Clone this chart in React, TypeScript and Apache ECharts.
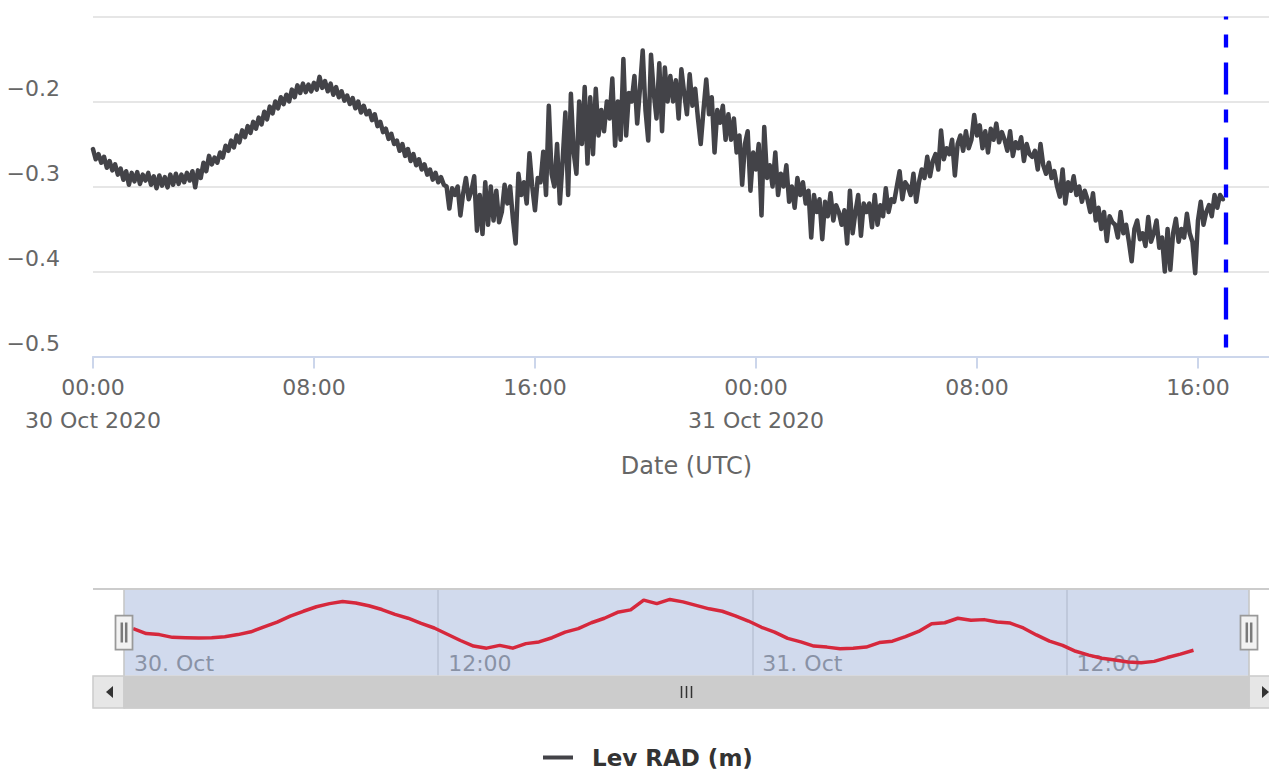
import React, { useEffect, useRef } from "react";
import * as echarts from "echarts";

// ---------- data ----------
const BASE = Date.UTC(2020, 9, 30, 0, 0, 0);
const MIN = 60000;
const HOUR = 3600000;
const STEP_MIN = 6;

// one row per hour (00:00 30 Oct onwards), values every 6 minutes
const levelRows: number[][] = [
  [-0.256, -0.268, -0.262, -0.272, -0.265, -0.278, -0.27, -0.281, -0.274, -0.286],
  [-0.279, -0.292, -0.282, -0.298, -0.284, -0.294, -0.283, -0.297, -0.286, -0.293],
  [-0.284, -0.298, -0.288, -0.302, -0.287, -0.299, -0.289, -0.301, -0.286, -0.298],
  [-0.285, -0.297, -0.286, -0.295, -0.284, -0.293, -0.282, -0.301, -0.281, -0.29],
  [-0.272, -0.282, -0.264, -0.274, -0.266, -0.272, -0.26, -0.266, -0.252, -0.258],
  [-0.246, -0.254, -0.24, -0.248, -0.234, -0.242, -0.229, -0.237, -0.224, -0.232],
  [-0.219, -0.227, -0.212, -0.221, -0.206, -0.214, -0.2, -0.208, -0.195, -0.203],
  [-0.192, -0.2, -0.186, -0.195, -0.181, -0.19, -0.179, -0.189, -0.18, -0.188],
  [-0.178, -0.186, -0.171, -0.184, -0.176, -0.188, -0.179, -0.192, -0.183, -0.195],
  [-0.188, -0.199, -0.193, -0.203, -0.196, -0.208, -0.2, -0.213, -0.205, -0.215],
  [-0.211, -0.222, -0.215, -0.229, -0.224, -0.236, -0.232, -0.244, -0.238, -0.25],
  [-0.246, -0.258, -0.25, -0.264, -0.256, -0.27, -0.262, -0.275, -0.268, -0.28],
  [-0.274, -0.286, -0.28, -0.292, -0.284, -0.295, -0.289, -0.298, -0.3, -0.326],
  [-0.302, -0.31, -0.3, -0.334, -0.308, -0.29, -0.315, -0.305, -0.288, -0.352],
  [-0.31, -0.356, -0.295, -0.345, -0.3, -0.34, -0.305, -0.342, -0.33, -0.298],
  [-0.32, -0.3, -0.338, -0.367, -0.285, -0.31, -0.295, -0.32, -0.261, -0.3],
  [-0.328, -0.29, -0.295, -0.259, -0.31, -0.205, -0.285, -0.3, -0.25, -0.32],
  [-0.27, -0.213, -0.31, -0.191, -0.26, -0.285, -0.2, -0.25, -0.183, -0.273],
  [-0.195, -0.262, -0.185, -0.24, -0.21, -0.235, -0.2, -0.22, -0.173, -0.252],
  [-0.2, -0.245, -0.15, -0.24, -0.19, -0.2, -0.17, -0.226, -0.185, -0.14],
  [-0.21, -0.246, -0.145, -0.19, -0.22, -0.155, -0.235, -0.16, -0.2, -0.17],
  [-0.2, -0.175, -0.22, -0.162, -0.19, -0.215, -0.168, -0.205, -0.185, -0.22],
  [-0.25, -0.21, -0.174, -0.215, -0.195, -0.26, -0.21, -0.225, -0.205, -0.245],
  [-0.215, -0.245, -0.22, -0.26, -0.24, -0.298, -0.25, -0.235, -0.305, -0.26],
  [-0.28, -0.25, -0.334, -0.23, -0.29, -0.275, -0.3, -0.26, -0.31, -0.285],
  [-0.3, -0.275, -0.318, -0.3, -0.325, -0.29, -0.31, -0.295, -0.32, -0.305],
  [-0.36, -0.31, -0.33, -0.315, -0.362, -0.318, -0.335, -0.308, -0.34, -0.322],
  [-0.33, -0.345, -0.328, -0.367, -0.305, -0.355, -0.33, -0.31, -0.358, -0.32],
  [-0.33, -0.32, -0.348, -0.31, -0.345, -0.322, -0.335, -0.302, -0.33, -0.315],
  [-0.318, -0.3, -0.282, -0.315, -0.295, -0.3, -0.31, -0.285, -0.318, -0.295],
  [-0.28, -0.29, -0.265, -0.288, -0.27, -0.262, -0.28, -0.234, -0.268, -0.255],
  [-0.262, -0.245, -0.287, -0.25, -0.24, -0.258, -0.235, -0.255, -0.245, -0.216],
  [-0.24, -0.228, -0.255, -0.235, -0.26, -0.232, -0.245, -0.226, -0.248, -0.236],
  [-0.245, -0.258, -0.235, -0.264, -0.248, -0.255, -0.242, -0.27, -0.25, -0.262],
  [-0.265, -0.258, -0.28, -0.25, -0.275, -0.285, -0.272, -0.29, -0.282, -0.3],
  [-0.312, -0.28, -0.32, -0.295, -0.305, -0.288, -0.31, -0.3, -0.318, -0.305],
  [-0.315, -0.33, -0.308, -0.34, -0.325, -0.35, -0.33, -0.364, -0.335, -0.342],
  [-0.345, -0.36, -0.33, -0.355, -0.345, -0.365, -0.388, -0.35, -0.34, -0.362],
  [-0.355, -0.37, -0.336, -0.365, -0.355, -0.34, -0.372, -0.36, -0.4, -0.35],
  [-0.398, -0.355, -0.338, -0.365, -0.35, -0.36, -0.332, -0.355, -0.365, -0.402],
  [-0.34, -0.318, -0.345, -0.33, -0.322, -0.335, -0.31, -0.325, -0.31, -0.315],
];

// navigator (grouped) series: every 30 min starting 00:21
const NAV_START_MIN = 21;
const NAV_STEP_MIN = 30;
const navValues: number[] = [
  -0.262, -0.276, -0.279, -0.287, -0.288, -0.289, -0.288, -0.285, -0.279, -0.271,
  -0.257, -0.243, -0.226, -0.212, -0.199, -0.19, -0.184, -0.188, -0.196, -0.207,
  -0.221, -0.232, -0.247, -0.26, -0.278, -0.296, -0.312, -0.318, -0.31, -0.318,
  -0.305, -0.3, -0.288, -0.272, -0.262, -0.245, -0.232, -0.215, -0.208, -0.18,
  -0.19, -0.178, -0.185, -0.195, -0.205, -0.212, -0.225, -0.24, -0.258, -0.272,
  -0.29, -0.3, -0.312, -0.315, -0.32, -0.318, -0.315, -0.302, -0.298, -0.285,
  -0.27, -0.248, -0.245, -0.232, -0.238, -0.236, -0.243, -0.246, -0.26, -0.28,
  -0.298, -0.31, -0.327, -0.338, -0.347, -0.352, -0.358, -0.36, -0.356, -0.345,
  -0.335, -0.324,
];

const SERIES_NAME = "Lev RAD (m)";
const AXIS_TITLE = "Date (UTC)";
const MONTHS = ["Jan", "Feb", "Mar", "Apr", "May", "Jun", "Jul", "Aug", "Sep", "Oct", "Nov", "Dec"];
const Y_MIN = -0.5;
const Y_MAX = -0.1;
const Y_STEP = 0.1;
const NAV_Y_MIN = -0.398;
const NAV_Y_MAX = -0.148;
const AXIS_END_HOURS = 42.97;
const MARKER_HOURS = 41;
const MAIN_TICK_HOURS = 8;
const NAV_TICK_HOURS = 12;

// ---------- layout ----------
const CHART_W = 1281;
const CHART_H = 771;
const MAIN_LEFT = 93;
const MAIN_RIGHT = 1;
const MAIN_TOP = 16.5;
const MAIN_H = 340;
const NAV_TOP = 589;
const NAV_H = 87;
const SCROLL_H = 32;
const FONT = "'DejaVu Sans', sans-serif";

const pad2 = (n: number) => String(n).padStart(2, "0");

export default function App() {
  const ref = useRef<HTMLDivElement>(null);

  useEffect(() => {
    const el = ref.current;
    if (!el) return;
    const chart = echarts.init(el, null, { renderer: "svg" });

    const mainData = levelRows.flatMap((row, h) =>
      row.map((v, i) => [BASE + (h * 60 + i * STEP_MIN) * MIN, v])
    );
    const navData = navValues.map((v, i) => [BASE + (NAV_START_MIN + i * NAV_STEP_MIN) * MIN, v]);
    const xMin = BASE;
    const xMax = BASE + AXIS_END_HOURS * HOUR;
    const navLeft = MAIN_LEFT + SCROLL_H - 1;
    const navRight = MAIN_RIGHT + SCROLL_H - 1;

    const option: any = {
      animation: false,
      backgroundColor: "#ffffff",
      textStyle: { fontFamily: FONT },
      grid: [
        { left: MAIN_LEFT, right: MAIN_RIGHT, top: MAIN_TOP, height: MAIN_H },
        { left: navLeft, right: navRight, top: NAV_TOP, height: NAV_H },
      ],
      legend: {
        data: [SERIES_NAME],
        left: 538,
        top: 741,
        icon: "rect",
        itemWidth: 30,
        itemHeight: 4,
        selectedMode: false,
        textStyle: {
          fontFamily: FONT,
          fontSize: 23,
          fontWeight: "bold",
          color: "#333333",
          padding: [0, 0, 0, 14],
        },
      },
      xAxis: [
        {
          type: "value",
          gridIndex: 0,
          min: xMin,
          max: xMax,
          interval: MAIN_TICK_HOURS * HOUR,
          axisLine: { show: true, lineStyle: { color: "#ccd6eb", width: 2 } },
          axisTick: { show: true, length: 12, lineStyle: { color: "#ccd6eb", width: 2 } },
          splitLine: { show: false },
          axisLabel: {
            showMaxLabel: false,
            color: "#666666",
            fontFamily: FONT,
            fontSize: 22,
            lineHeight: 33,
            margin: 14,
            formatter: (v: number) => {
              const d = new Date(v);
              const t = pad2(d.getUTCHours()) + ":" + pad2(d.getUTCMinutes());
              if (d.getUTCHours() === 0 && d.getUTCMinutes() === 0) {
                return t + "\n" + d.getUTCDate() + " " + MONTHS[d.getUTCMonth()] + " " + d.getUTCFullYear();
              }
              return t;
            },
          },
          name: AXIS_TITLE,
          nameLocation: "middle",
          nameGap: 109,
          nameTextStyle: { color: "#666666", fontFamily: FONT, fontSize: 24, verticalAlign: "middle" },
        },
        {
          type: "value",
          gridIndex: 1,
          min: xMin,
          max: xMax,
          interval: NAV_TICK_HOURS * HOUR,
          axisLine: { show: false },
          axisTick: { show: false },
          splitLine: { show: true, lineStyle: { color: "#e6e6e6", width: 2 } },
          axisLabel: {
            inside: true,
            showMaxLabel: false,
            align: "left",
            padding: [0, 0, 0, 10],
            color: "#999999",
            fontFamily: FONT,
            fontSize: 22,
            lineHeight: 22,
            margin: 2,
            formatter: (v: number) => {
              const d = new Date(v);
              if (d.getUTCHours() === 0 && d.getUTCMinutes() === 0) {
                return d.getUTCDate() + ". " + MONTHS[d.getUTCMonth()];
              }
              return pad2(d.getUTCHours()) + ":" + pad2(d.getUTCMinutes());
            },
          },
        },
      ],
      yAxis: [
        {
          type: "value",
          gridIndex: 0,
          min: Y_MIN,
          max: Y_MAX,
          interval: Y_STEP,
          axisLine: { show: false },
          axisTick: { show: false },
          splitLine: { show: true, lineStyle: { color: "#e6e6e6", width: 2 } },
          axisLabel: {
            showMaxLabel: false,
            color: "#666666",
            fontFamily: FONT,
            fontSize: 22,
            margin: 33,
            verticalAlign: "bottom",
            padding: [0, 0, 2, 0],
            formatter: (v: number) => v.toFixed(1).replace("-", "\u2212"),
          },
        },
        {
          type: "value",
          gridIndex: 1,
          min: NAV_Y_MIN,
          max: NAV_Y_MAX,
          show: false,
          splitLine: { show: false },
        },
      ],
      series: [
        {
          type: "line",
          name: SERIES_NAME,
          xAxisIndex: 0,
          yAxisIndex: 0,
          data: mainData,
          showSymbol: false,
          symbol: "none",
          itemStyle: { color: "#434348" },
          lineStyle: { color: "#434348", width: 4.5, join: "round", cap: "round" },
          markLine: {
            silent: true,
            symbol: "none",
            label: { show: false },
            lineStyle: { color: "#0000ff", width: 4.3, type: [32, 15, 13, 15], dashOffset: 38 },
            data: [{ xAxis: BASE + MARKER_HOURS * HOUR }],
          },
        },
        {
          type: "line",
          name: "navigator",
          xAxisIndex: 1,
          yAxisIndex: 1,
          data: navData,
          showSymbol: false,
          symbol: "none",
          silent: true,
          itemStyle: { color: "#d6283c" },
          lineStyle: { color: "#d6283c", width: 3.5, join: "round" },
          markArea: {
            silent: true,
            itemStyle: { color: "rgba(102,133,194,0.3)" },
            data: [[{ xAxis: xMin }, { xAxis: xMax }]],
          },
        },
      ],
    };

    chart.setOption(option);

    const x0 = chart.convertToPixel({ xAxisIndex: 1 }, xMin) as number;
    const x1 = chart.convertToPixel({ xAxisIndex: 1 }, xMax) as number;
    const L = MAIN_LEFT;
    const R = CHART_W - MAIN_RIGHT;
    const navBot = NAV_TOP + NAV_H;
    const sTop = navBot;
    const sBot = navBot + SCROLL_H;
    const sMid = sTop + SCROLL_H / 2;
    const navMid = NAV_TOP + NAV_H / 2;
    const cx = (x0 + x1) / 2;

    const handle = (x: number) => [
      {
        type: "rect",
        z: 100,
        silent: true,
        shape: { x: x - 8.5, y: navMid - 17, width: 17, height: 34 },
        style: { fill: "#f2f2f2", stroke: "#999999", lineWidth: 1.75 },
      },
      {
        type: "line",
        z: 101,
        silent: true,
        shape: { x1: x - 2.2, y1: navMid - 10, x2: x - 2.2, y2: navMid + 10 },
        style: { stroke: "#7a7a7a", lineWidth: 2.5 },
      },
      {
        type: "line",
        z: 101,
        silent: true,
        shape: { x1: x + 2.2, y1: navMid - 10, x2: x + 2.2, y2: navMid + 10 },
        style: { stroke: "#7a7a7a", lineWidth: 2.5 },
      },
    ];

    const graphic: any[] = [
      {
        type: "rect",
        z: 90,
        silent: true,
        shape: { x: L, y: sTop, width: R - L, height: SCROLL_H },
        style: { fill: "#f2f2f2", stroke: "#f2f2f2", lineWidth: 1 },
      },
      {
        type: "rect",
        z: 91,
        silent: true,
        shape: { x: x0, y: sTop, width: x1 - x0, height: SCROLL_H },
        style: { fill: "#cccccc", stroke: "#cccccc", lineWidth: 1 },
      },
      ...[-5, 0, 5].map((dx) => ({
        type: "line",
        z: 92,
        silent: true,
        shape: { x1: cx + dx, y1: sMid - 6, x2: cx + dx, y2: sMid + 6 },
        style: { stroke: "#333333", lineWidth: 1.5 },
      })),
      {
        type: "rect",
        z: 92,
        silent: true,
        shape: { x: L, y: sTop, width: SCROLL_H - 1, height: SCROLL_H },
        style: { fill: "#e6e6e6", stroke: "#cccccc", lineWidth: 1.5 },
      },
      {
        type: "polygon",
        z: 93,
        silent: true,
        shape: { points: [[L + 13, sMid], [L + 20, sMid - 6], [L + 20, sMid + 6]] },
        style: { fill: "#333333" },
      },
      {
        type: "rect",
        z: 92,
        silent: true,
        shape: { x: R - SCROLL_H + 1, y: sTop, width: SCROLL_H - 1, height: SCROLL_H },
        style: { fill: "#e6e6e6", stroke: "#cccccc", lineWidth: 1.5 },
      },
      {
        type: "polygon",
        z: 93,
        silent: true,
        shape: { points: [[R - SCROLL_H + 14, sMid - 6], [R - SCROLL_H + 14, sMid + 6], [R - SCROLL_H + 21, sMid]] },
        style: { fill: "#333333" },
      },
      {
        type: "line",
        z: 95,
        silent: true,
        shape: { x1: L, y1: NAV_TOP, x2: R, y2: NAV_TOP },
        style: { stroke: "#cccccc", lineWidth: 2 },
      },
      {
        type: "polyline",
        z: 95,
        silent: true,
        shape: {
          points: [[L, NAV_TOP], [x0, NAV_TOP], [x0, sBot], [x1, sBot], [x1, NAV_TOP], [R, NAV_TOP]],
        },
        style: { stroke: "#cccccc", lineWidth: 1.5, fill: "none" },
      },
      ...handle(x0),
      ...handle(x1),
    ];

    chart.setOption({ graphic });

    return () => {
      chart.dispose();
    };
  }, []);

  return (
    <div
      style={{
        position: "absolute",
        left: 0,
        top: 0,
        width: 1269,
        height: CHART_H,
        overflow: "hidden",
        background: "#ffffff",
      }}
    >
      <div ref={ref} style={{ width: CHART_W, height: CHART_H }} />
    </div>
  );
}
